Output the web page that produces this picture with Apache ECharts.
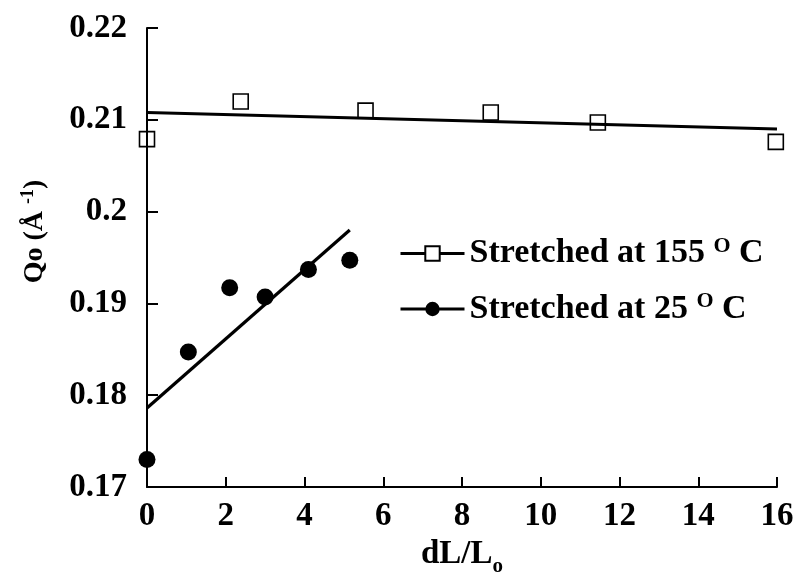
<!DOCTYPE html>
<html>
<head>
<meta charset="utf-8">
<script src="https://cdn.jsdelivr.net/npm/echarts@6/dist/echarts.min.js"></script>
<style>
  html, body { margin: 0; padding: 0; background: #fff; }
  #chart { width: 798px; height: 582px; }
</style>
</head>
<body>
<div id="chart"></div>
<script>
// Peak position Qo versus relative elongation dL/Lo
const strain155 = [0, 2.38, 5.55, 8.73, 11.45, 15.97];
const qo155     = [0.2079, 0.2120, 0.2110, 0.2108, 0.2097, 0.2076];
const strain25  = [0, 1.05, 2.1, 3.0, 4.1, 5.15];
const qo25      = [0.1730, 0.1847, 0.1917, 0.1907, 0.1937, 0.1947];

// Least-squares lines (end points)
const fit155X = [0, 16];
const fit155Y = [0.2108, 0.2090];
const fit25X  = [0, 5.15];
const fit25Y  = [0.1786, 0.1980];

const xTicks = [0, 2, 4, 6, 8, 10, 12, 14, 16];
const yTicks = [0.17, 0.18, 0.19, 0.2, 0.21, 0.22];

const legendNames = ['Stretched at 155 °C', 'Stretched at 25 °C'];

const pairs = (xs, ys) => xs.map((x, i) => [x, ys[i]]);
const FONT = '"Liberation Serif", "Times New Roman", serif';

const chart = echarts.init(document.getElementById('chart'), null, { renderer: 'canvas' });

chart.setOption({
  animation: false,
  backgroundColor: '#fff',
  grid: { left: 147, right: 21, top: 28, bottom: 95, containLabel: false, outerBoundsMode: 'none' },
  legend: {
    data: legendNames,
    orient: 'vertical',
    left: 394,
    top: 230,
    itemWidth: 64,
    itemHeight: 18,
    itemGap: 20,
    lineStyle: { color: '#000', width: 3, opacity: 1 },
    formatter: function (name) {
      const m = name.match(/^(.*) °C$/);
      return m[1] + ' {sup|O} C';
    },
    textStyle: {
      fontFamily: FONT,
      fontWeight: 'bold',
      fontSize: 34,
      color: '#000',
      rich: {
        sup: { fontFamily: FONT, fontWeight: 'bold', fontSize: 22, color: '#000', padding: [0, 0, 15, 0] }
      }
    }
  },
  xAxis: {
    type: 'value',
    min: 0, max: 16, interval: 2,
    name: 'dL/L{sub|o}',
    nameLocation: 'middle',
    nameGap: 44,
    nameTextStyle: {
      fontFamily: FONT, fontWeight: 'bold', fontSize: 33, color: '#000',
      rich: { sub: { fontFamily: FONT, fontWeight: 'bold', fontSize: 21, color: '#000', padding: [24, 0, 0, 0] } }
    },
    axisLine: { lineStyle: { color: '#000', width: 2 } },
    axisTick: { inside: true, length: 10, lineStyle: { color: '#000', width: 2 } },
    axisLabel: {
      margin: 13, fontFamily: FONT, fontWeight: 'bold', fontSize: 33, color: '#000',
      formatter: v => xTicks.includes(v) ? String(v) : ''
    },
    splitLine: { show: false }
  },
  yAxis: {
    type: 'value',
    min: 0.17, max: 0.22, interval: 0.01,
    name: 'Qo (Å {sup|-1})',
    nameLocation: 'middle',
    nameRotate: 90,
    nameGap: 96,
    nameTextStyle: {
      fontFamily: FONT, fontWeight: 'bold', fontSize: 28, color: '#000',
      padding: [0, 0, 0, 52],
      rich: { sup: { fontFamily: FONT, fontWeight: 'bold', fontSize: 18, color: '#000', padding: [0, 0, 14, 0] } }
    },
    axisLine: { lineStyle: { color: '#000', width: 2 } },
    axisTick: { inside: true, length: 11, lineStyle: { color: '#000', width: 2 } },
    axisLabel: {
      margin: 20, fontFamily: FONT, fontWeight: 'bold', fontSize: 33, color: '#000',
      formatter: v => {
        const t = yTicks.find(y => Math.abs(y - v) < 1e-9);
        return t === undefined ? '' : String(t);
      }
    },
    splitLine: { show: false }
  },
  series: [
    {
      name: legendNames[0],
      type: 'line',
      data: pairs(fit155X, fit155Y),
      showSymbol: false,
      symbol: 'rect',
      symbolSize: 14,
      itemStyle: { color: '#fff', borderColor: '#000', borderWidth: 1.5 },
      lineStyle: { color: '#000', width: 3 },
      z: 2
    },
    {
      name: legendNames[1],
      type: 'line',
      data: pairs(fit25X, fit25Y),
      showSymbol: false,
      symbol: 'circle',
      symbolSize: 14,
      itemStyle: { color: '#000' },
      lineStyle: { color: '#000', width: 3.2 },
      z: 2
    },
    {
      name: 'points155',
      type: 'scatter',
      data: pairs(strain155, qo155),
      symbol: 'rect',
      symbolSize: 15,
      itemStyle: { color: 'rgba(255,255,255,0)', borderColor: '#000', borderWidth: 1.6, opacity: 1 },
      z: 3
    },
    {
      name: 'points25',
      type: 'scatter',
      data: pairs(strain25, qo25),
      symbol: 'circle',
      symbolSize: 17,
      itemStyle: { color: '#000', opacity: 1 },
      z: 3
    }
  ]
});
</script>
</body>
</html>
